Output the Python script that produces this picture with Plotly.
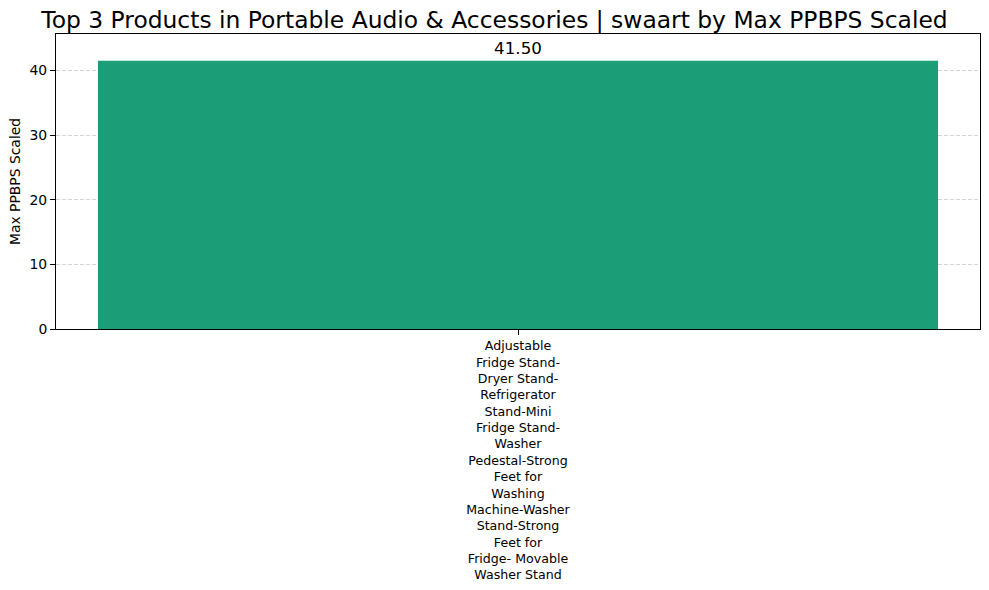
import plotly.graph_objects as go

categories = ["Adjustable Fridge Stand-Dryer Stand-Refrigerator Stand-Mini Fridge Stand-Washer Pedestal-Strong Feet for Washing Machine-Washer Stand-Strong Feet for Fridge- Movable Washer Stand"]
tick_labels = ["Adjustable<br>Fridge Stand-<br>Dryer Stand-<br>Refrigerator<br>Stand-Mini<br>Fridge Stand-<br>Washer<br>Pedestal-Strong<br>Feet for<br>Washing<br>Machine-Washer<br>Stand-Strong<br>Feet for<br>Fridge- Movable<br>Washer Stand"]
values = [41.50]
title = "Top 3 Products in Portable Audio & Accessories | swaart by Max PPBPS Scaled"
y_title = "Max PPBPS Scaled"

FONT = "DejaVu Sans"

fig = go.Figure()
fig.add_trace(go.Bar(
    x=list(range(len(categories))),
    y=values,
    width=0.8,
    marker=dict(color="#1b9e77", line=dict(width=0)),
    text=[f"{v:.2f}" for v in values],
    textposition="outside",
    textfont=dict(family=FONT, size=16.7, color="black"),
    cliponaxis=False,
    hoverinfo="skip",
))

ymax = max(values) * 1.1
fig.update_layout(
    width=989, height=590,
    margin=dict(l=56, r=9, t=34, b=261, pad=0),
    paper_bgcolor="white", plot_bgcolor="white",
    showlegend=False,
    font=dict(family=FONT, color="black"),
    title=dict(text=title, x=0.5, xanchor="center", y=1 - 20/590, yanchor="middle",
               font=dict(family=FONT, size=23.4, color="black")),
    xaxis=dict(
        range=[-0.44, 0.44],
        tickvals=list(range(len(categories))),
        ticktext=tick_labels,
        tickfont=dict(family=FONT, size=12.6, color="black"),
        ticks="outside", ticklen=5, tickcolor="black",
        showline=True, linecolor="black", linewidth=1, mirror=True,
        showgrid=False, zeroline=False, automargin=False,
    ),
    yaxis=dict(
        range=[0, ymax],
        tickvals=[0, 10, 20, 30, 40],
        tickfont=dict(family=FONT, size=13.9, color="black"),
        ticks="outside", ticklen=5, tickcolor="black",
        showline=True, linecolor="black", linewidth=1, mirror=True,
        showgrid=True, gridcolor="#d4d4d4", griddash="4px,2px", gridwidth=1,
        zeroline=False, automargin=False,
        title=dict(text=y_title, font=dict(family=FONT, size=13.9, color="black"), standoff=5),
    ),
)

fig.write_html("out.html")
